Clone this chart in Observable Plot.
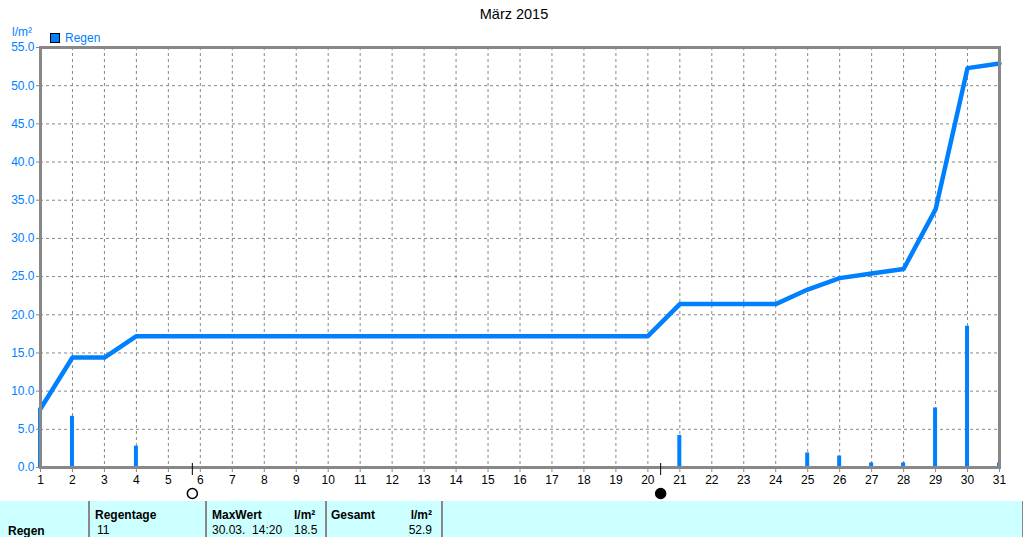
<!DOCTYPE html>
<html>
<head>
<meta charset="utf-8">
<script src="https://cdn.jsdelivr.net/npm/d3@7"></script>
<script src="https://cdn.jsdelivr.net/npm/@observablehq/plot@0.6"></script>
<style>
  html, body { margin: 0; padding: 0; background: #fff; }
  body { width: 1024px; height: 537px; overflow: hidden; font-family: "Liberation Sans", Arial, sans-serif; }
  #wrap { position: relative; width: 1024px; height: 537px; }
  #chart { position: absolute; left: 0; top: 0; }
  .abs { position: absolute; white-space: nowrap; }
  #title { left: 0; width: 1028px; top: 6px; text-align: center; font-size: 14.5px; color: #000; }
  #unit { left: 12px; top: 25px; font-size: 12px; color: #0080ff; }
  #legend { left: 50px; top: 31px; font-size: 12px; color: #0080ff; display: flex; align-items: center; }
  #legend .sw { width: 8px; height: 8px; background: #0080ff; border: 1px solid #000; margin-right: 5px; }
  #table { position: absolute; left: 0; top: 501px; width: 1022px; height: 36px; background: #ccffff; border-right: 1px solid #888; font-size: 12px; color: #000; }
  #table .sep { position: absolute; top: 0; width: 2px; height: 36px; background: #888; }
  #table .t { position: absolute; white-space: pre; line-height: 14px; }
  #table .b { font-weight: bold; }
</style>
</head>
<body>
<div id="wrap">
  <div id="chart"></div>
  <div id="title" class="abs">März 2015</div>
  <div id="unit" class="abs">l/m²</div>
  <div id="legend" class="abs"><span class="sw"></span><span>Regen</span></div>
  <div id="table"></div>
</div>
<script>
// Days of the month
const days = d3.range(1, 32);
// Daily rainfall (l/m²)
const rainDays   = [1,   2,   4,   21,  25,  26,  27,  28,  29,  30,   31];
const rainValues = [7.7, 6.7, 2.8, 4.2, 1.9, 1.5, 0.6, 0.6, 7.8, 18.5, 0.6];
// Cumulative rainfall per day (l/m²)
const cumValues = [7.7, 14.4, 14.4, 17.2, 17.2, 17.2, 17.2, 17.2, 17.2, 17.2,
                   17.2, 17.2, 17.2, 17.2, 17.2, 17.2, 17.2, 17.2, 17.2, 17.2,
                   21.4, 21.4, 21.4, 21.4, 23.3, 24.8, 25.4, 26.0, 33.8, 52.3, 52.9];
// Y tick values
const yTicks = d3.range(0, 56, 5);
// Moon phases (day of month as fraction): full moon, new moon
const moonDays = [5.75, 20.4];
const moonFull = [true, false];
// Summary table
const tableHeaders = ["Regentage", "MaxWert", "l/m²", "Gesamt", "l/m²"];
const tableValues  = ["11", "30.03.  14:20", "18.5", "", "52.9"];
const rowLabel = "Regen";

const blue = "#0080ff";
const gray = "#888888";

const cum = days.map((d, i) => ({day: d, value: cumValues[i]}));
const rain = rainDays.map((d, i) => ({day: d, value: rainValues[i]}));
const moons = moonDays.map((d, i) => ({day: d, full: moonFull[i]}));
const halfW = 0.0625;

const chart = Plot.plot({
  width: 1024,
  height: 500,
  marginLeft: 40,
  marginRight: 25,
  marginTop: 47,
  marginBottom: 33,
  style: {fontFamily: "'Liberation Sans', Arial, sans-serif", fontSize: "12px", overflow: "visible"},
  x: {domain: [1, 31]},
  y: {domain: [0, 55]},
  marks: [
    Plot.gridX(days.slice(1, -1), {stroke: gray, strokeOpacity: 1, strokeDasharray: "3,3"}),
    Plot.gridY(yTicks.slice(1, -1), {stroke: gray, strokeOpacity: 1, strokeDasharray: "3,3"}),
    Plot.rectY(rain, {x1: d => d.day - halfW, x2: d => d.day + halfW, y: "value", fill: blue}),
    Plot.line(cum, {x: "day", y: "value", stroke: blue, strokeWidth: 4.5, strokeLinejoin: "round"}),
    Plot.frame({stroke: gray, strokeWidth: 3}),
    Plot.axisX(days, {tickSize: 5, tickPadding: 3, stroke: gray, fill: "#000", tickFormat: d => String(d), label: null}),
    Plot.axisY(yTicks, {tickSize: 4, tickPadding: 2, stroke: gray, fill: blue, tickFormat: d => d.toFixed(1), label: null}),
    Plot.ruleX(moons, {x: "day", y1: 0, y2: 0, insetTop: -4, insetBottom: -8, stroke: "#000", strokeWidth: 1}),
    Plot.dot(moons, {x: "day", frameAnchor: "bottom", dy: 26, r: 5, stroke: "#000", strokeWidth: 1.5, fill: d => d.full ? "#fff" : "#000"})
  ]
});
document.getElementById("chart").appendChild(chart);

// Summary table
const table = document.getElementById("table");
const seps = [88, 205, 325, 441];
seps.forEach(x => {
  const s = document.createElement("div");
  s.className = "sep"; s.style.left = x + "px"; table.appendChild(s);
});
function addText(txt, left, top, bold, right) {
  const t = document.createElement("div");
  t.className = "t" + (bold ? " b" : "");
  t.textContent = txt;
  t.style.top = top + "px";
  if (right != null) { t.style.right = (1022 - right) + "px"; } else { t.style.left = left + "px"; }
  table.appendChild(t);
}
const headerPos = [{l: 95}, {l: 212}, {l: 294}, {l: 331}, {r: 432}];
const valuePos  = [{l: 97}, {l: 212}, {l: 294}, {l: 331}, {r: 432}];
tableHeaders.forEach((h, i) => addText(h, headerPos[i].l, 7, true, headerPos[i].r));
tableValues.forEach((v, i) => addText(v, valuePos[i].l, 22, false, valuePos[i].r));
addText(rowLabel, 8, 23, true);
</script>
</body>
</html>
